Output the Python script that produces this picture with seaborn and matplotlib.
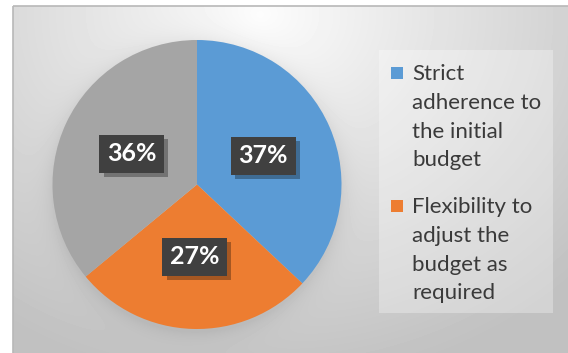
import numpy as np
import matplotlib
matplotlib.use("Agg")
import matplotlib.pyplot as plt
import matplotlib.patheffects as pe
from matplotlib.patches import Rectangle
import seaborn as sns

# Survey shares (percent)
categories = [
    "Strict adherence to the initial budget",
    "Flexibility to adjust the budget as required",
    "Other",
]
shares = [37, 27, 36]
legend_labels = [
    "Strict\nadherence to\nthe initial\nbudget",
    "Flexibility to\nadjust the\nbudget as\nrequired",
]

sns.set_theme(style="white")
plt.rcParams["font.family"] = ["Lato", "DejaVu Sans"]
palette = ["#5B9BD5", "#ED7D31", "#A5A5A5"]

W, H = 568, 353
fig = plt.figure(figsize=(W / 100, H / 100), dpi=100)
fig.patch.set_facecolor("white")

# full-figure canvas in pixel coordinates for the chart backdrop and legend
canvas = fig.add_axes([0, 0, 1, 1])
canvas.axis("off")

x0, y0 = 13, 6
cx, cy, R = 197, 184.5, 144.5
xs = np.arange(x0, W) + 0.5
ys = np.arange(y0, H) + 0.5
X, Y = np.meshgrid(xs, ys)
d = np.sqrt(((X - 260) / 440) ** 2 + ((Y - 15) / 370) ** 2)
val = 253 - 60 * np.clip(d, 0, 1) ** 0.95
rr = np.sqrt((X - cx) ** 2 + (Y - cy - 3) ** 2)
val -= 16 * np.exp(-np.clip(rr - R, 0, None) / 10)
canvas.imshow(np.clip(val, 0, 255) / 255, cmap="gray", vmin=0, vmax=1,
              extent=(x0, W, H, y0), interpolation="bilinear", zorder=0)
canvas.add_patch(Rectangle((x0, y0), W - x0 + 5, H - y0 + 5, fill=False,
                           ec="#b8b8b8", lw=1.2, zorder=1))
canvas.set_xlim(0, W)
canvas.set_ylim(H, 0)
canvas.set_aspect("auto")

# pie
half = 150
pie_ax = fig.add_axes([(cx - half) / W, (H - cy - half) / H, 2 * half / W, 2 * half / H])
wedges, texts, autotexts = pie_ax.pie(
    shares, colors=palette, startangle=90, counterclock=False, radius=1,
    autopct=lambda p: f"{p:.0f}%", pctdistance=0.5,
    wedgeprops=dict(linewidth=0),
)
lim = half / R
pie_ax.set_xlim(-lim, lim)
pie_ax.set_ylim(-lim, lim)
pie_ax.set_aspect("equal")
pie_ax.axis("off")

for t in autotexts:
    t.set_color("white")
    t.set_fontsize(18)
    t.set_fontweight("bold")
    t.set_bbox(dict(boxstyle="square,pad=0.3", fc="#404040", ec="none"))
    t.get_bbox_patch().set_path_effects(
        [pe.withSimplePatchShadow(offset=(3, -3), shadow_rgbFace="black", alpha=0.3)]
    )

# legend (only the two named options)
canvas.add_patch(Rectangle((379, 50), 174, 263, fc="white", alpha=0.3, ec="none", zorder=2))
entry_top = [64, 197]
for wedge, label, yt in zip(wedges[:2], legend_labels, entry_top):
    canvas.add_patch(Rectangle((391, yt + 3), 12, 12, fc=wedge.get_facecolor(),
                               ec="none", zorder=3))
    canvas.text(412, yt, label, fontsize=16, color="#3a3a3a", va="top",
                ha="left", linespacing=1.55, zorder=3)

fig.savefig("out.png", dpi=100)
